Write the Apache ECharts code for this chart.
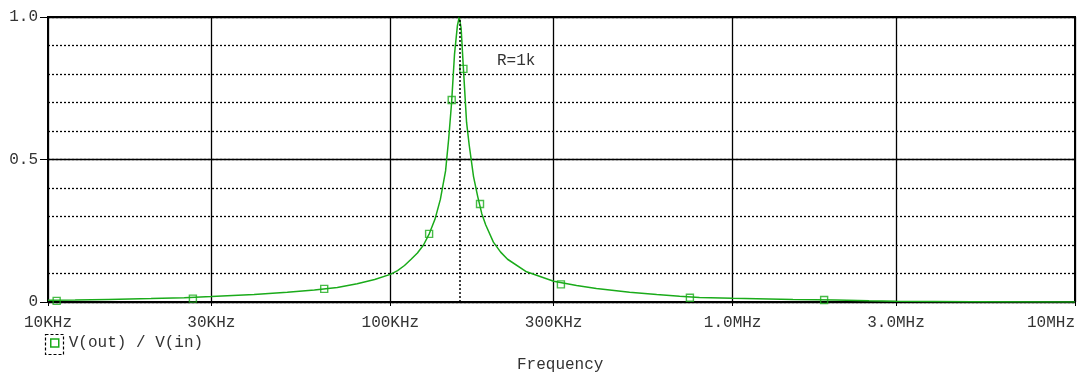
<!DOCTYPE html>
<html>
<head>
<meta charset="utf-8">
<script src="https://cdn.jsdelivr.net/npm/echarts@6/dist/echarts.min.js"></script>
<style>
  html, body { margin: 0; padding: 0; background: #fff; }
  #main { width: 1078px; height: 377px; }
</style>
</head>
<body>
<div id="main"></div>
<script>
// frequency response (Hz -> V(out)/V(in))
var freqs = [10000, 12000, 15000, 20000, 25000, 30000, 40000, 50000, 60000, 70000, 80000, 90000,
  100000, 105000, 110000, 115000, 120000, 125000, 130000, 135000, 140000, 145000, 148000, 151000, 154000,
  157000, 159000, 161000, 163500, 167000, 170000, 175000, 180000, 185000, 190000, 200000, 210000,
  220000, 250000, 300000, 350000, 400000, 500000, 600000, 700000, 800000, 1000000, 1500000,
  2000000, 2500000, 3000000, 5000000, 10000000];
var gains = [0.006, 0.007, 0.009, 0.012, 0.015, 0.019, 0.026, 0.034, 0.042, 0.051, 0.064, 0.079,
  0.097, 0.11, 0.128, 0.15, 0.172, 0.2, 0.24, 0.29, 0.36, 0.46, 0.57, 0.70, 0.87,
  0.97, 1.0, 0.96, 0.818, 0.63, 0.55, 0.44, 0.37, 0.31, 0.27, 0.21, 0.175,
  0.15, 0.106, 0.073, 0.058, 0.047, 0.034, 0.026, 0.02, 0.016, 0.013, 0.009,
  0.007, 0.004, 0.003, 0.001, 0.0];

// marker squares along the trace
var markFreqs = [10600, 26500, 64100, 129800, 151100, 163500, 182800, 315000, 750000, 1850000];
var markGains = [0.004, 0.012, 0.046, 0.239, 0.709, 0.818, 0.344, 0.062, 0.015, 0.007];

var peakFreq = 159000;

var xTickVals = [10000, 30000, 100000, 300000, 1000000, 3000000, 10000000];
var xTickLabels = ['10KHz', '30KHz', '100KHz', '300KHz', '1.0MHz', '3.0MHz', '10MHz'];
var seriesName = 'V(out) / V(in)';

var green = '#1aab1a';
var mono = "'Liberation Mono', 'DejaVu Sans Mono', monospace";

var chart = echarts.init(document.getElementById('main'));

var option = {
  animation: false,
  grid: {
    left: 48, right: 3, top: 17, bottom: 75,
    show: true, borderColor: '#000', borderWidth: 2
  },
  legend: {
    data: [seriesName],
    left: 50, top: 335,
    padding: 0,
    itemWidth: 8, itemHeight: 8,
    icon: 'rect',
    itemStyle: { color: 'transparent', borderColor: green, borderWidth: 1.5 },
    textStyle: { fontFamily: mono, fontSize: 16, color: '#333', padding: [0, 0, 0, 5], lineHeight: 16 }
  },
  xAxis: {
    type: 'log',
    logBase: 10,
    min: 10000,
    max: 10000000,
    axisLine: { lineStyle: { color: '#000', width: 2 } },
    axisTick: { show: true, customValues: xTickVals, length: 4, lineStyle: { color: '#000' } },
    axisLabel: {
      customValues: xTickVals,
      margin: 13,
      fontFamily: mono,
      fontSize: 16,
      color: '#333',
      alignMaxLabel: 'right',
      formatter: function (v) {
        var best = 0;
        for (var i = 1; i < xTickVals.length; i++) {
          if (Math.abs(Math.log10(xTickVals[i] / v)) < Math.abs(Math.log10(xTickVals[best] / v))) best = i;
        }
        return xTickLabels[best];
      }
    },
    splitLine: { show: true, lineStyle: { color: '#000', width: 1.3 } },
    minorTick: { show: false },
    minorSplitLine: { show: false }
  },
  yAxis: [
    {
      type: 'value', min: 0, max: 1, interval: 0.1,
      axisLine: { show: false },
      axisTick: { show: false },
      axisLabel: { show: false },
      splitLine: { show: true, lineStyle: { type: [2, 2], color: '#000', width: 1.3 } }
    },
    {
      type: 'value', min: 0, max: 1, interval: 0.5, position: 'left', offset: 0,
      axisLine: { show: true, lineStyle: { color: '#000', width: 2 } },
      axisTick: { show: true, length: 8, lineStyle: { color: '#000' } },
      axisLabel: {
        margin: 10, fontFamily: mono, fontSize: 16, color: '#333',
        formatter: function (v) { return v === 0 ? '0' : v.toFixed(1); }
      },
      splitLine: { show: true, lineStyle: { color: '#000', width: 1.3 } }
    }
  ],
  series: [
    {
      name: seriesName,
      type: 'line',
      yAxisIndex: 0,
      data: freqs.map(function (f, i) { return [f, gains[i]]; }),
      showSymbol: false,
      smooth: false,
      lineStyle: { color: green, width: 1.5 },
      itemStyle: { color: green },
      z: 3,
      markLine: {
        silent: true,
        symbol: 'none',
        label: { show: false },
        lineStyle: { type: [2, 2], color: '#000', width: 1.5 },
        data: [{ xAxis: peakFreq }]
      }
    },
    {
      name: 'markers',
      type: 'scatter',
      yAxisIndex: 0,
      data: markFreqs.map(function (f, i) { return [f, markGains[i]]; }),
      symbol: 'rect',
      symbolSize: 7,
      itemStyle: { color: 'transparent', borderColor: green, borderWidth: 1.4 },
      z: 4
    }
  ],
  graphic: [
    {
      type: 'rect',
      shape: { x: 45.5, y: 334.5, width: 18, height: 20 },
      style: { fill: 'none', stroke: '#000', lineWidth: 1.2, lineDash: [3, 2] }
    },
    {
      type: 'text',
      left: 497, top: 53,
      style: { text: 'R=1k', font: '16px ' + mono, fill: '#333' }
    },
    {
      type: 'text',
      left: 517, top: 357,
      style: { text: 'Frequency', font: '16px ' + mono, fill: '#333' }
    }
  ]
};

chart.setOption(option);
</script>
</body>
</html>
